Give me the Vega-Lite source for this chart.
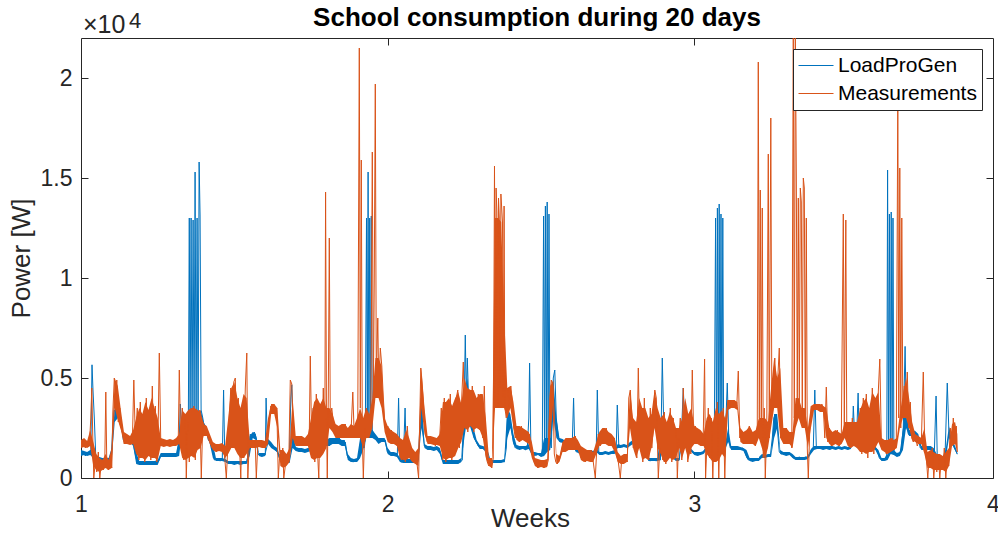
{
  "$schema": "https://vega.github.io/schema/vega-lite/v6.json",
  "width": 912,
  "height": 440,
  "autosize": {"type": "none"},
  "padding": {"left": 81, "top": 38, "right": 5, "bottom": 56},
  "background": "white",
  "title": {"text": "School consumption during 20 days", "fontSize": 26, "fontWeight": "bold", "color": "#000000", "offset": -21, "anchor": "middle", "font": "Liberation Sans"},
  "config": {
    "font": "Liberation Sans",
    "view": {"stroke": "#262626", "strokeWidth": 1},
    "axis": {"grid": false, "domain": false, "tickColor": "#262626", "tickSize": -7, "labelColor": "#262626", "labelFontSize": 23, "titleColor": "#262626", "titleFontSize": 26, "titleFontWeight": "normal", "labelFlush": false},
    "legend": {"orient": "top-right", "offset": 11, "strokeColor": "#262626", "fillColor": "#ffffff", "padding": 5, "symbolType": "stroke", "symbolSize": 1225, "symbolStrokeWidth": 1, "labelFontSize": 21, "labelColor": "#000000", "labelOffset": 4, "rowPadding": 5, "clipHeight": 23, "cornerRadius": 0}
  },
  "datasets": {
    "band": [
{"w":1.00,"llo":1100,"lhi":1400,"mlo":1500,"mhi":1900},{"w":1.01,"llo":1150,"lhi":1350,"mlo":1550,"mhi":2000},{"w":1.02,"llo":1100,"lhi":1300,"mlo":1500,"mhi":1850},{"w":1.03,"llo":1150,"lhi":1400,"mlo":1600,"mhi":2400},{"w":1.04,"llo":1000,"lhi":1400,"mlo":600,"mhi":1800},{"w":1.05,"llo":800,"lhi":1050,"mlo":400,"mhi":1200},{"w":1.06,"llo":850,"lhi":1050,"mlo":300,"mhi":1000},{"w":1.07,"llo":800,"lhi":1000,"mlo":400,"mhi":900},{"w":1.08,"llo":800,"lhi":1000,"mlo":500,"mhi":1200},{"w":1.09,"llo":800,"lhi":1000,"mlo":400,"mhi":900},
{"w":1.10,"llo":900,"lhi":1500,"mlo":500,"mhi":1500},{"w":1.11,"llo":2800,"lhi":3500,"mlo":3500,"mhi":5000},{"w":1.12,"llo":3000,"lhi":3500,"mlo":2900,"mhi":4600},{"w":1.13,"llo":2500,"lhi":3100,"mlo":2400,"mhi":3400},{"w":1.14,"llo":1800,"lhi":2100,"mlo":1700,"mhi":2300},{"w":1.15,"llo":1750,"lhi":2050,"mlo":1700,"mhi":2200},{"w":1.16,"llo":1800,"lhi":2000,"mlo":1650,"mhi":2100},{"w":1.17,"llo":1600,"lhi":1900,"mlo":1700,"mhi":2400},{"w":1.18,"llo":700,"lhi":1300,"mlo":1200,"mhi":3000},{"w":1.19,"llo":650,"lhi":850,"mlo":1000,"mhi":3500},
{"w":1.20,"llo":650,"lhi":850,"mlo":1000,"mhi":3200},{"w":1.21,"llo":650,"lhi":850,"mlo":900,"mhi":3800},{"w":1.22,"llo":650,"lhi":850,"mlo":1100,"mhi":3400},{"w":1.23,"llo":650,"lhi":850,"mlo":1000,"mhi":4000},{"w":1.24,"llo":650,"lhi":850,"mlo":1000,"mhi":3500},{"w":1.25,"llo":650,"lhi":900,"mlo":900,"mhi":3000},{"w":1.26,"llo":1050,"lhi":1250,"mlo":1600,"mhi":2000},{"w":1.27,"llo":1050,"lhi":1250,"mlo":1550,"mhi":1950},{"w":1.28,"llo":1050,"lhi":1250,"mlo":1600,"mhi":1900},{"w":1.29,"llo":1050,"lhi":1250,"mlo":1550,"mhi":1950},
{"w":1.30,"llo":1050,"lhi":1250,"mlo":1600,"mhi":1900},{"w":1.31,"llo":1050,"lhi":1250,"mlo":1600,"mhi":2000},{"w":1.32,"llo":1100,"lhi":2000,"mlo":1700,"mhi":2200},{"w":1.33,"llo":2400,"lhi":3200,"mlo":1000,"mhi":3400},{"w":1.34,"llo":2400,"lhi":3000,"mlo":900,"mhi":3200},{"w":1.35,"llo":2400,"lhi":2900,"mlo":1000,"mhi":3400},{"w":1.36,"llo":2400,"lhi":2900,"mlo":1100,"mhi":3500},{"w":1.37,"llo":2400,"lhi":2900,"mlo":1000,"mhi":3500},{"w":1.38,"llo":2400,"lhi":2900,"mlo":1400,"mhi":3400},{"w":1.39,"llo":2600,"lhi":3400,"mlo":1500,"mhi":3300},
{"w":1.40,"llo":2300,"lhi":2800,"mlo":2100,"mhi":2700},{"w":1.41,"llo":2200,"lhi":2500,"mlo":2100,"mhi":2600},{"w":1.42,"llo":1700,"lhi":1950,"mlo":1700,"mhi":2200},{"w":1.43,"llo":1000,"lhi":1700,"mlo":1400,"mhi":1800},{"w":1.44,"llo":850,"lhi":1000,"mlo":1300,"mhi":1700},{"w":1.45,"llo":850,"lhi":1000,"mlo":1350,"mhi":1700},{"w":1.46,"llo":850,"lhi":1000,"mlo":1300,"mhi":1750},{"w":1.47,"llo":800,"lhi":950,"mlo":1000,"mhi":1600},{"w":1.48,"llo":700,"lhi":850,"mlo":1200,"mhi":3000},{"w":1.49,"llo":700,"lhi":850,"mlo":1500,"mhi":4500},
{"w":1.50,"llo":650,"lhi":850,"mlo":1500,"mhi":4800},{"w":1.51,"llo":700,"lhi":850,"mlo":1200,"mhi":4000},{"w":1.52,"llo":650,"lhi":850,"mlo":1000,"mhi":3500},{"w":1.53,"llo":700,"lhi":850,"mlo":1000,"mhi":4200},{"w":1.54,"llo":700,"lhi":850,"mlo":1200,"mhi":4000},{"w":1.55,"llo":1100,"lhi":2100,"mlo":1500,"mhi":1900},{"w":1.56,"llo":2000,"lhi":2300,"mlo":1500,"mhi":1900},{"w":1.57,"llo":1900,"lhi":2200,"mlo":1500,"mhi":1900},{"w":1.58,"llo":1100,"lhi":1250,"mlo":1550,"mhi":1900},{"w":1.59,"llo":1050,"lhi":1250,"mlo":1500,"mhi":1900},
{"w":1.60,"llo":1100,"lhi":1250,"mlo":1500,"mhi":1850},{"w":1.61,"llo":1700,"lhi":1950,"mlo":1700,"mhi":3000},{"w":1.62,"llo":1500,"lhi":1800,"mlo":3200,"mhi":3700},{"w":1.63,"llo":1400,"lhi":1600,"mlo":3200,"mhi":3700},{"w":1.64,"llo":1300,"lhi":1500,"mlo":2500,"mhi":3500},{"w":1.65,"llo":800,"lhi":1000,"mlo":600,"mhi":1400},{"w":1.66,"llo":750,"lhi":900,"mlo":500,"mhi":1400},{"w":1.67,"llo":750,"lhi":900,"mlo":600,"mhi":1200},{"w":1.68,"llo":750,"lhi":900,"mlo":800,"mhi":1500},{"w":1.69,"llo":1500,"lhi":2200,"mlo":2000,"mhi":4000},
{"w":1.70,"llo":1350,"lhi":1550,"mlo":1600,"mhi":2100},{"w":1.71,"llo":1300,"lhi":1500,"mlo":1600,"mhi":2100},{"w":1.72,"llo":1300,"lhi":1500,"mlo":1600,"mhi":2100},{"w":1.73,"llo":1250,"lhi":1450,"mlo":1600,"mhi":2000},{"w":1.74,"llo":1300,"lhi":1500,"mlo":1600,"mhi":2200},{"w":1.75,"llo":1350,"lhi":1550,"mlo":1000,"mhi":3000},{"w":1.76,"llo":3200,"lhi":3600,"mlo":900,"mhi":3800},{"w":1.77,"llo":3200,"lhi":3600,"mlo":1000,"mhi":4000},{"w":1.78,"llo":2000,"lhi":3300,"mlo":1000,"mhi":3700},{"w":1.79,"llo":1700,"lhi":1900,"mlo":1200,"mhi":4000},
{"w":1.80,"llo":1600,"lhi":1900,"mlo":1500,"mhi":3500},{"w":1.81,"llo":1600,"lhi":2000,"mlo":2500,"mhi":3500},{"w":1.82,"llo":1700,"lhi":2000,"mlo":2300,"mhi":3200},{"w":1.83,"llo":1700,"lhi":2000,"mlo":2000,"mhi":2700},{"w":1.84,"llo":1700,"lhi":2000,"mlo":2000,"mhi":2600},{"w":1.85,"llo":1600,"lhi":1900,"mlo":2000,"mhi":2700},{"w":1.86,"llo":1600,"lhi":1900,"mlo":2000,"mhi":2700},{"w":1.87,"llo":900,"lhi":1200,"mlo":2000,"mhi":2500},{"w":1.88,"llo":800,"lhi":1000,"mlo":2000,"mhi":2700},{"w":1.89,"llo":800,"lhi":950,"mlo":2000,"mhi":2600},
{"w":1.90,"llo":800,"lhi":1000,"mlo":2000,"mhi":3000},{"w":1.91,"llo":1000,"lhi":2000,"mlo":2000,"mhi":3500},{"w":1.92,"llo":1400,"lhi":2000,"mlo":1500,"mhi":3000},{"w":1.93,"llo":2000,"lhi":2500,"mlo":2000,"mhi":3500},{"w":1.94,"llo":2000,"lhi":2500,"mlo":2000,"mhi":3200},{"w":1.95,"llo":2000,"lhi":2400,"mlo":2500,"mhi":4000},{"w":1.96,"llo":1900,"lhi":2200,"mlo":4000,"mhi":6000},{"w":1.97,"llo":1700,"lhi":2000,"mlo":4000,"mhi":6000},{"w":1.98,"llo":1800,"lhi":2000,"mlo":3500,"mhi":5600},{"w":1.99,"llo":1800,"lhi":2000,"mlo":2300,"mhi":3000},
{"w":2.00,"llo":1200,"lhi":1500,"mlo":1800,"mhi":2600},{"w":2.01,"llo":1100,"lhi":1300,"mlo":1700,"mhi":2400},{"w":2.02,"llo":1100,"lhi":1300,"mlo":1700,"mhi":2300},{"w":2.03,"llo":1050,"lhi":1250,"mlo":1600,"mhi":2200},{"w":2.04,"llo":800,"lhi":1000,"mlo":1000,"mhi":2000},{"w":2.05,"llo":750,"lhi":950,"mlo":900,"mhi":1900},{"w":2.06,"llo":750,"lhi":950,"mlo":900,"mhi":2400},{"w":2.07,"llo":750,"lhi":950,"mlo":1000,"mhi":2000},{"w":2.08,"llo":750,"lhi":950,"mlo":800,"mhi":1500},{"w":2.09,"llo":750,"lhi":950,"mlo":700,"mhi":1300},
{"w":2.10,"llo":800,"lhi":1000,"mlo":600,"mhi":1500},{"w":2.11,"llo":2500,"lhi":4000,"mlo":3500,"mhi":5500},{"w":2.12,"llo":1500,"lhi":1700,"mlo":2200,"mhi":3500},{"w":2.13,"llo":1400,"lhi":1600,"mlo":1700,"mhi":2100},{"w":2.14,"llo":1400,"lhi":1600,"mlo":1700,"mhi":2100},{"w":2.15,"llo":1350,"lhi":1550,"mlo":1650,"mhi":2050},{"w":2.16,"llo":1400,"lhi":1600,"mlo":1650,"mhi":2000},{"w":2.17,"llo":1200,"lhi":1500,"mlo":1600,"mhi":2200},{"w":2.18,"llo":700,"lhi":900,"mlo":1000,"mhi":3800},{"w":2.19,"llo":700,"lhi":900,"mlo":900,"mhi":3800},
{"w":2.20,"llo":700,"lhi":900,"mlo":1000,"mhi":4000},{"w":2.21,"llo":700,"lhi":900,"mlo":1000,"mhi":3600},{"w":2.22,"llo":700,"lhi":900,"mlo":1100,"mhi":4000},{"w":2.23,"llo":700,"lhi":900,"mlo":1500,"mhi":4300},{"w":2.24,"llo":800,"lhi":1000,"mlo":1800,"mhi":3700},{"w":2.25,"llo":2000,"lhi":4000,"mlo":2500,"mhi":5000},{"w":2.26,"llo":3000,"lhi":5000,"mlo":2400,"mhi":4500},{"w":2.27,"llo":2500,"lhi":3000,"mlo":2600,"mhi":4400},{"w":2.28,"llo":2000,"lhi":2500,"mlo":2400,"mhi":4400},{"w":2.29,"llo":1700,"lhi":1900,"mlo":2500,"mhi":4000},
{"w":2.30,"llo":1450,"lhi":1650,"mlo":2400,"mhi":4200},{"w":2.31,"llo":1450,"lhi":1600,"mlo":2000,"mhi":4200},{"w":2.32,"llo":1300,"lhi":1550,"mlo":1000,"mhi":3000},{"w":2.33,"llo":800,"lhi":1000,"mlo":600,"mhi":1000},{"w":2.34,"llo":750,"lhi":900,"mlo":500,"mhi":1000},{"w":2.35,"llo":750,"lhi":900,"mlo":3500,"mhi":13000},{"w":2.36,"llo":750,"lhi":900,"mlo":3500,"mhi":13000},{"w":2.37,"llo":750,"lhi":900,"mlo":3500,"mhi":12800},{"w":2.38,"llo":800,"lhi":950,"mlo":3500,"mhi":8000},{"w":2.39,"llo":2000,"lhi":3500,"mlo":3000,"mhi":4500},
{"w":2.40,"llo":2500,"lhi":3200,"mlo":3500,"mhi":4600},{"w":2.41,"llo":1700,"lhi":2200,"mlo":2500,"mhi":3800},{"w":2.42,"llo":1450,"lhi":1650,"mlo":1900,"mhi":2600},{"w":2.43,"llo":1400,"lhi":1600,"mlo":1800,"mhi":2600},{"w":2.44,"llo":1450,"lhi":1600,"mlo":1900,"mhi":2500},{"w":2.45,"llo":1400,"lhi":1600,"mlo":1800,"mhi":2400},{"w":2.46,"llo":1450,"lhi":1700,"mlo":1700,"mhi":2300},{"w":2.47,"llo":1150,"lhi":1300,"mlo":1000,"mhi":1800},{"w":2.48,"llo":1100,"lhi":1300,"mlo":600,"mhi":1000},{"w":2.49,"llo":1150,"lhi":1250,"mlo":500,"mhi":950},
{"w":2.50,"llo":1050,"lhi":1250,"mlo":550,"mhi":900},{"w":2.51,"llo":1100,"lhi":2000,"mlo":500,"mhi":900},{"w":2.52,"llo":1300,"lhi":2000,"mlo":550,"mhi":950},{"w":2.53,"llo":1400,"lhi":2000,"mlo":2000,"mhi":4600},{"w":2.54,"llo":3000,"lhi":5000,"mlo":3800,"mhi":4900},{"w":2.55,"llo":2000,"lhi":3000,"mlo":700,"mhi":1200},{"w":2.56,"llo":1800,"lhi":2000,"mlo":800,"mhi":1100},{"w":2.57,"llo":1750,"lhi":1950,"mlo":1300,"mhi":1800},{"w":2.58,"llo":1650,"lhi":1850,"mlo":1300,"mhi":2000},{"w":2.59,"llo":1700,"lhi":1900,"mlo":1400,"mhi":2000},
{"w":2.60,"llo":1650,"lhi":1850,"mlo":1400,"mhi":2000},{"w":2.61,"llo":1400,"lhi":1600,"mlo":1400,"mhi":2100},{"w":2.62,"llo":1250,"lhi":1400,"mlo":1400,"mhi":1900},{"w":2.63,"llo":1200,"lhi":1350,"mlo":900,"mhi":1600},{"w":2.64,"llo":1250,"lhi":1400,"mlo":800,"mhi":1500},{"w":2.65,"llo":1200,"lhi":1350,"mlo":850,"mhi":1400},{"w":2.66,"llo":1250,"lhi":1400,"mlo":800,"mhi":1400},{"w":2.67,"llo":1200,"lhi":1350,"mlo":800,"mhi":1300},{"w":2.68,"llo":1300,"lhi":1500,"mlo":1200,"mhi":1800},{"w":2.69,"llo":1150,"lhi":1300,"mlo":1600,"mhi":2300},
{"w":2.70,"llo":1150,"lhi":1300,"mlo":1700,"mhi":2500},{"w":2.71,"llo":1200,"lhi":1350,"mlo":1700,"mhi":2500},{"w":2.72,"llo":1150,"lhi":1300,"mlo":1600,"mhi":2300},{"w":2.73,"llo":1200,"lhi":1350,"mlo":1600,"mhi":2200},{"w":2.74,"llo":1200,"lhi":1400,"mlo":1300,"mhi":2000},{"w":2.75,"llo":1500,"lhi":1700,"mlo":800,"mhi":1300},{"w":2.76,"llo":1500,"lhi":1650,"mlo":700,"mhi":1100},{"w":2.77,"llo":1550,"lhi":1700,"mlo":700,"mhi":1200},{"w":2.78,"llo":1500,"lhi":1650,"mlo":800,"mhi":1200},{"w":2.79,"llo":1600,"lhi":1800,"mlo":2500,"mhi":4400},
{"w":2.80,"llo":1700,"lhi":1900,"mlo":1500,"mhi":3000},{"w":2.81,"llo":1800,"lhi":1950,"mlo":1000,"mhi":2800},{"w":2.82,"llo":1800,"lhi":2000,"mlo":1500,"mhi":4000},{"w":2.83,"llo":1750,"lhi":1950,"mlo":900,"mhi":3500},{"w":2.84,"llo":1400,"lhi":1900,"mlo":1000,"mhi":3500},{"w":2.85,"llo":850,"lhi":1000,"mlo":900,"mhi":3000},{"w":2.86,"llo":850,"lhi":1000,"mlo":1500,"mhi":3200},{"w":2.87,"llo":850,"lhi":1000,"mlo":2500,"mhi":4400},{"w":2.88,"llo":850,"lhi":1000,"mlo":1500,"mhi":3500},{"w":2.89,"llo":900,"lhi":2500,"mlo":1200,"mhi":3000},
{"w":2.90,"llo":2000,"lhi":3000,"mlo":800,"mhi":3200},{"w":2.91,"llo":1700,"lhi":2000,"mlo":800,"mhi":2800},{"w":2.92,"llo":1400,"lhi":1600,"mlo":1000,"mhi":3300},{"w":2.93,"llo":1000,"lhi":1200,"mlo":900,"mhi":3000},{"w":2.94,"llo":850,"lhi":1000,"mlo":1000,"mhi":2500},{"w":2.95,"llo":850,"lhi":1000,"mlo":1500,"mhi":2500},{"w":2.96,"llo":1800,"lhi":2500,"mlo":1000,"mhi":3000},{"w":2.97,"llo":2000,"lhi":3500,"mlo":1500,"mhi":4000},{"w":2.98,"llo":1400,"lhi":1600,"mlo":900,"mhi":3200},{"w":2.99,"llo":1300,"lhi":1450,"mlo":1500,"mhi":3500},
{"w":3.00,"llo":1150,"lhi":1300,"mlo":1700,"mhi":2600},{"w":3.01,"llo":1100,"lhi":1300,"mlo":1700,"mhi":2500},{"w":3.02,"llo":1150,"lhi":1300,"mlo":1600,"mhi":2400},{"w":3.03,"llo":1200,"lhi":1350,"mlo":1600,"mhi":2200},{"w":3.04,"llo":1400,"lhi":1600,"mlo":1200,"mhi":3000},{"w":3.05,"llo":1400,"lhi":1600,"mlo":1000,"mhi":3200},{"w":3.06,"llo":1400,"lhi":1600,"mlo":800,"mhi":2800},{"w":3.07,"llo":1400,"lhi":1700,"mlo":800,"mhi":3500},{"w":3.08,"llo":1400,"lhi":1700,"mlo":900,"mhi":3200},{"w":3.09,"llo":1400,"lhi":1700,"mlo":1200,"mhi":3400},
{"w":3.10,"llo":1400,"lhi":1700,"mlo":1000,"mhi":3000},{"w":3.11,"llo":1800,"lhi":2500,"mlo":3400,"mhi":3900},{"w":3.12,"llo":1400,"lhi":1600,"mlo":3500,"mhi":3900},{"w":3.13,"llo":1400,"lhi":1600,"mlo":3500,"mhi":3900},{"w":3.14,"llo":1400,"lhi":1600,"mlo":3400,"mhi":3800},{"w":3.15,"llo":1400,"lhi":1550,"mlo":1800,"mhi":2500},{"w":3.16,"llo":1350,"lhi":1500,"mlo":1700,"mhi":2300},{"w":3.17,"llo":1000,"lhi":1400,"mlo":1700,"mhi":2400},{"w":3.18,"llo":850,"lhi":1000,"mlo":1700,"mhi":2600},{"w":3.19,"llo":800,"lhi":1000,"mlo":1700,"mhi":2300},
{"w":3.20,"llo":850,"lhi":1000,"mlo":1600,"mhi":2400},{"w":3.21,"llo":850,"lhi":1000,"mlo":2000,"mhi":3000},{"w":3.22,"llo":1000,"lhi":1200,"mlo":1500,"mhi":3000},{"w":3.23,"llo":1000,"lhi":1150,"mlo":1000,"mhi":3000},{"w":3.24,"llo":1050,"lhi":1200,"mlo":1500,"mhi":2800},{"w":3.25,"llo":1050,"lhi":1200,"mlo":2500,"mhi":4500},{"w":3.26,"llo":2000,"lhi":3200,"mlo":3500,"mhi":6000},{"w":3.27,"llo":2500,"lhi":3200,"mlo":3500,"mhi":5000},{"w":3.28,"llo":1200,"lhi":1400,"mlo":2000,"mhi":5500},{"w":3.29,"llo":1150,"lhi":1300,"mlo":1700,"mhi":2500},
{"w":3.30,"llo":1100,"lhi":1300,"mlo":1700,"mhi":2500},{"w":3.31,"llo":1150,"lhi":1300,"mlo":1700,"mhi":2300},{"w":3.32,"llo":1000,"lhi":1200,"mlo":1500,"mhi":2300},{"w":3.33,"llo":900,"lhi":1050,"mlo":2500,"mhi":4000},{"w":3.34,"llo":900,"lhi":1050,"mlo":3000,"mhi":4000},{"w":3.35,"llo":900,"lhi":1050,"mlo":2500,"mhi":3500},{"w":3.36,"llo":900,"lhi":1050,"mlo":2500,"mhi":3500},{"w":3.37,"llo":950,"lhi":1100,"mlo":1500,"mhi":2500},{"w":3.38,"llo":1200,"lhi":1450,"mlo":2500,"mhi":3600},{"w":3.39,"llo":1400,"lhi":1600,"mlo":3400,"mhi":3700},
{"w":3.40,"llo":1450,"lhi":1600,"mlo":3400,"mhi":3700},{"w":3.41,"llo":1450,"lhi":1600,"mlo":3300,"mhi":3700},{"w":3.42,"llo":1400,"lhi":1600,"mlo":3300,"mhi":3600},{"w":3.43,"llo":1450,"lhi":1600,"mlo":2000,"mhi":3500},{"w":3.44,"llo":1400,"lhi":1600,"mlo":1700,"mhi":2500},{"w":3.45,"llo":1450,"lhi":1600,"mlo":1600,"mhi":2300},{"w":3.46,"llo":1400,"lhi":1550,"mlo":1700,"mhi":2400},{"w":3.47,"llo":1450,"lhi":1600,"mlo":1600,"mhi":2300},{"w":3.48,"llo":1400,"lhi":1550,"mlo":1700,"mhi":2200},{"w":3.49,"llo":1450,"lhi":1600,"mlo":2000,"mhi":2800},
{"w":3.50,"llo":1400,"lhi":1550,"mlo":1600,"mhi":2800},{"w":3.51,"llo":1450,"lhi":1600,"mlo":1500,"mhi":2800},{"w":3.52,"llo":1800,"lhi":2500,"mlo":1600,"mhi":2800},{"w":3.53,"llo":1500,"lhi":1800,"mlo":1500,"mhi":2800},{"w":3.54,"llo":1450,"lhi":1600,"mlo":1300,"mhi":3400},{"w":3.55,"llo":1400,"lhi":1600,"mlo":1300,"mhi":3800},{"w":3.56,"llo":1450,"lhi":1600,"mlo":1200,"mhi":4000},{"w":3.57,"llo":1400,"lhi":1550,"mlo":1300,"mhi":3500},{"w":3.58,"llo":1450,"lhi":1600,"mlo":1300,"mhi":4300},{"w":3.59,"llo":1400,"lhi":1550,"mlo":1500,"mhi":4000},
{"w":3.60,"llo":1100,"lhi":1400,"mlo":1800,"mhi":4300},{"w":3.61,"llo":850,"lhi":1000,"mlo":1400,"mhi":2000},{"w":3.62,"llo":850,"lhi":1000,"mlo":1300,"mhi":1900},{"w":3.63,"llo":900,"lhi":1200,"mlo":1200,"mhi":1900},{"w":3.64,"llo":1200,"lhi":1500,"mlo":1300,"mhi":2000},{"w":3.65,"llo":1150,"lhi":1400,"mlo":1400,"mhi":1900},{"w":3.66,"llo":1050,"lhi":1250,"mlo":1500,"mhi":2000},{"w":3.67,"llo":1100,"lhi":1300,"mlo":2500,"mhi":3200},{"w":3.68,"llo":1400,"lhi":2500,"mlo":3000,"mhi":4200},{"w":3.69,"llo":2500,"lhi":4000,"mlo":3000,"mhi":5000},
{"w":3.70,"llo":2100,"lhi":2400,"mlo":2500,"mhi":4000},{"w":3.71,"llo":2100,"lhi":2400,"mlo":1900,"mhi":2800},{"w":3.72,"llo":2100,"lhi":2350,"mlo":1800,"mhi":2200},{"w":3.73,"llo":1900,"lhi":2200,"mlo":1700,"mhi":2100},{"w":3.74,"llo":1400,"lhi":1600,"mlo":1700,"mhi":2000},{"w":3.75,"llo":1400,"lhi":1600,"mlo":1200,"mhi":2500},{"w":3.76,"llo":1400,"lhi":1600,"mlo":500,"mhi":1300},{"w":3.77,"llo":1400,"lhi":1600,"mlo":500,"mhi":1400},{"w":3.78,"llo":1200,"lhi":1500,"mlo":400,"mhi":1300},{"w":3.79,"llo":950,"lhi":1200,"mlo":400,"mhi":1200},
{"w":3.80,"llo":850,"lhi":1000,"mlo":400,"mhi":1200},{"w":3.81,"llo":850,"lhi":1000,"mlo":400,"mhi":1100},{"w":3.82,"llo":1000,"lhi":1500,"mlo":300,"mhi":1300},{"w":3.83,"llo":2000,"lhi":2600,"mlo":600,"mhi":1500},{"w":3.84,"llo":1700,"lhi":1900,"mlo":1600,"mhi":2700},{"w":3.85,"llo":1400,"lhi":1600,"mlo":1700,"mhi":2800},{"w":3.857,"llo":1150,"lhi":1300,"mlo":1300,"mhi":2200}
    ],
    "lpg": [
{"w":1.0010,"p":1200},{"w":1.0075,"p":1350},{"w":1.0140,"p":1100},{"w":1.0205,"p":1300},{"w":1.0271,"p":1150},{"w":1.0320,"p":1400},{"w":1.0359,"p":5660},{"w":1.0391,"p":4400},{"w":1.0434,"p":3000},{"w":1.0483,"p":1000},{"w":1.0531,"p":850},{"w":1.0597,"p":950},{"w":1.0662,"p":800},{"w":1.0727,"p":900},{"w":1.0792,"p":800},{"w":1.0858,"p":950},{"w":1.0923,"p":850},{"w":1.0988,"p":1000},{"w":1.1037,"p":2600},{"w":1.1086,"p":3400},{"w":1.1151,"p":3200},{"w":1.1216,"p":3400},{"w":1.1281,"p":3000},{"w":1.1330,"p":2600},{"w":1.1379,"p":1900},{"w":1.1444,"p":2000},{"w":1.1510,"p":1800},{"w":1.1575,"p":1900},{"w":1.1640,"p":1850},{"w":1.1705,"p":1700},{"w":1.1770,"p":1200},{"w":1.1836,"p":750},{"w":1.1901,"p":800},{"w":1.1966,"p":700},{"w":1.2031,"p":800},{"w":1.2096,"p":750},{"w":1.2162,"p":700},{"w":1.2227,"p":800},{"w":1.2292,"p":750},{"w":1.2357,"p":700},{"w":1.2423,"p":800},{"w":1.2488,"p":750},{"w":1.2553,"p":900},{"w":1.2602,"p":1150},{"w":1.2683,"p":1200},{"w":1.2749,"p":1100},{"w":1.2814,"p":1200},{"w":1.2879,"p":1100},{"w":1.2944,"p":1150},{"w":1.3009,"p":1200},{"w":1.3075,"p":1100},{"w":1.3140,"p":1200},{"w":1.3205,"p":2000},{"w":1.3238,"p":3700},{"w":1.3287,"p":2500},{"w":1.3336,"p":3000},{"w":1.3385,"p":2500},{"w":1.3433,"p":2800},{"w":1.3499,"p":2600},{"w":1.3531,"p":13000},{"w":1.3557,"p":2500},{"w":1.3590,"p":13000},{"w":1.3622,"p":2600},{"w":1.3655,"p":12900},{"w":1.3688,"p":2700},{"w":1.3720,"p":15300},{"w":1.3753,"p":2500},{"w":1.3785,"p":13000},{"w":1.3818,"p":2600},{"w":1.3851,"p":15800},{"w":1.3883,"p":13100},{"w":1.3916,"p":3400},{"w":1.3971,"p":3000},{"w":1.4020,"p":2500},{"w":1.4086,"p":2400},{"w":1.4151,"p":1900},{"w":1.4216,"p":1800},{"w":1.4281,"p":1700},{"w":1.4346,"p":900},{"w":1.4412,"p":950},{"w":1.4477,"p":900},{"w":1.4542,"p":850},{"w":1.4607,"p":950},{"w":1.4649,"p":4400},{"w":1.4689,"p":900},{"w":1.4738,"p":800},{"w":1.4803,"p":750},{"w":1.4868,"p":800},{"w":1.4933,"p":750},{"w":1.4998,"p":700},{"w":1.5064,"p":800},{"w":1.5129,"p":750},{"w":1.5194,"p":700},{"w":1.5259,"p":750},{"w":1.5324,"p":800},{"w":1.5390,"p":750},{"w":1.5455,"p":1200},{"w":1.5520,"p":2200},{"w":1.5585,"p":2100},{"w":1.5650,"p":2300},{"w":1.5716,"p":2000},{"w":1.5765,"p":1200},{"w":1.5814,"p":1150},{"w":1.5879,"p":1100},{"w":1.5944,"p":1200},{"w":1.6009,"p":1150},{"w":1.6035,"p":4000},{"w":1.6074,"p":1900},{"w":1.6140,"p":1800},{"w":1.6205,"p":1600},{"w":1.6270,"p":1500},{"w":1.6335,"p":1400},{"w":1.6400,"p":1300},{"w":1.6466,"p":1000},{"w":1.6531,"p":800},{"w":1.6596,"p":850},{"w":1.6661,"p":800},{"w":1.6726,"p":850},{"w":1.6792,"p":800},{"w":1.6840,"p":4000},{"w":1.6873,"p":4660},{"w":1.6922,"p":2000},{"w":1.6987,"p":1500},{"w":1.7052,"p":1400},{"w":1.7118,"p":1350},{"w":1.7183,"p":1450},{"w":1.7248,"p":1400},{"w":1.7313,"p":1300},{"w":1.7378,"p":1450},{"w":1.7444,"p":1400},{"w":1.7509,"p":1500},{"w":1.7574,"p":3500},{"w":1.7639,"p":3600},{"w":1.7704,"p":3500},{"w":1.7770,"p":3300},{"w":1.7835,"p":2000},{"w":1.7900,"p":1800},{"w":1.7965,"p":1700},{"w":1.8030,"p":1900},{"w":1.8096,"p":1600},{"w":1.8161,"p":2000},{"w":1.8226,"p":1800},{"w":1.8291,"p":1900},{"w":1.8356,"p":1700},{"w":1.8422,"p":2000},{"w":1.8487,"p":1700},{"w":1.8552,"p":1600},{"w":1.8617,"p":1800},{"w":1.8682,"p":1100},{"w":1.8748,"p":900},{"w":1.8813,"p":850},{"w":1.8878,"p":800},{"w":1.8943,"p":900},{"w":1.9009,"p":850},{"w":1.9074,"p":1000},{"w":1.9123,"p":2000},{"w":1.9172,"p":1600},{"w":1.9237,"p":1500},{"w":1.9270,"p":2000},{"w":1.9309,"p":13000},{"w":1.9335,"p":2500},{"w":1.9361,"p":15300},{"w":1.9387,"p":2400},{"w":1.9413,"p":13000},{"w":1.9439,"p":2200},{"w":1.9465,"p":13100},{"w":1.9498,"p":2400},{"w":1.9531,"p":2200},{"w":1.9596,"p":2100},{"w":1.9661,"p":2000},{"w":1.9726,"p":1800},{"w":1.9791,"p":1900},{"w":1.9857,"p":1850},{"w":1.9922,"p":1900},{"w":1.9987,"p":1300},{"w":2.0052,"p":1200},{"w":2.0117,"p":1250},{"w":2.0183,"p":1150},{"w":2.0248,"p":1200},{"w":2.0313,"p":1100},{"w":2.0355,"p":4000},{"w":2.0394,"p":1000},{"w":2.0444,"p":800},{"w":2.0509,"p":850},{"w":2.0567,"p":3500},{"w":2.0606,"p":900},{"w":2.0672,"p":850},{"w":2.0737,"p":800},{"w":2.0802,"p":900},{"w":2.0867,"p":850},{"w":2.0932,"p":800},{"w":2.0998,"p":900},{"w":2.1063,"p":3000},{"w":2.1096,"p":4000},{"w":2.1144,"p":2500},{"w":2.1193,"p":1600},{"w":2.1259,"p":1500},{"w":2.1324,"p":1550},{"w":2.1389,"p":1450},{"w":2.1454,"p":1500},{"w":2.1520,"p":1400},{"w":2.1585,"p":1550},{"w":2.1650,"p":1500},{"w":2.1715,"p":1300},{"w":2.1780,"p":900},{"w":2.1845,"p":800},{"w":2.1911,"p":750},{"w":2.1976,"p":800},{"w":2.2041,"p":850},{"w":2.2106,"p":750},{"w":2.2172,"p":800},{"w":2.2237,"p":800},{"w":2.2302,"p":850},{"w":2.2367,"p":800},{"w":2.2432,"p":900},{"w":2.2481,"p":2500},{"w":2.2530,"p":7150},{"w":2.2563,"p":4000},{"w":2.2596,"p":6000},{"w":2.2644,"p":3500},{"w":2.2693,"p":3000},{"w":2.2758,"p":2500},{"w":2.2824,"p":2000},{"w":2.2889,"p":1800},{"w":2.2954,"p":1600},{"w":2.3019,"p":1500},{"w":2.3084,"p":1550},{"w":2.3150,"p":1450},{"w":2.3215,"p":1500},{"w":2.3280,"p":1200},{"w":2.3345,"p":850},{"w":2.3410,"p":800},{"w":2.3476,"p":850},{"w":2.3541,"p":800},{"w":2.3606,"p":850},{"w":2.3671,"p":800},{"w":2.3737,"p":850},{"w":2.3802,"p":800},{"w":2.3867,"p":1500},{"w":2.3916,"p":3500},{"w":2.3965,"p":3000},{"w":2.4030,"p":2500},{"w":2.4095,"p":1800},{"w":2.4160,"p":1500},{"w":2.4226,"p":1600},{"w":2.4291,"p":1450},{"w":2.4356,"p":1500},{"w":2.4421,"p":1550},{"w":2.4486,"p":1400},{"w":2.4552,"p":1500},{"w":2.4601,"p":3000},{"w":2.4627,"p":5750},{"w":2.4666,"p":1800},{"w":2.4715,"p":1200},{"w":2.4780,"p":1250},{"w":2.4845,"p":1150},{"w":2.4910,"p":1200},{"w":2.4975,"p":1100},{"w":2.5041,"p":1200},{"w":2.5083,"p":13100},{"w":2.5112,"p":2000},{"w":2.5142,"p":13600},{"w":2.5171,"p":1500},{"w":2.5200,"p":13800},{"w":2.5230,"p":1500},{"w":2.5259,"p":13200},{"w":2.5288,"p":2000},{"w":2.5334,"p":1500},{"w":2.5399,"p":5000},{"w":2.5448,"p":5400},{"w":2.5497,"p":3000},{"w":2.5562,"p":2000},{"w":2.5627,"p":1800},{"w":2.5693,"p":1900},{"w":2.5758,"p":1700},{"w":2.5823,"p":1800},{"w":2.5888,"p":1900},{"w":2.5954,"p":1700},{"w":2.6019,"p":1800},{"w":2.6061,"p":4000},{"w":2.6100,"p":1500},{"w":2.6149,"p":1300},{"w":2.6214,"p":1350},{"w":2.6280,"p":1250},{"w":2.6345,"p":1300},{"w":2.6410,"p":1350},{"w":2.6475,"p":1250},{"w":2.6540,"p":1300},{"w":2.6606,"p":1350},{"w":2.6671,"p":1250},{"w":2.6736,"p":1300},{"w":2.6801,"p":1500},{"w":2.6834,"p":4400},{"w":2.6883,"p":1300},{"w":2.6932,"p":1250},{"w":2.6997,"p":1200},{"w":2.7062,"p":1300},{"w":2.7127,"p":1250},{"w":2.7193,"p":1200},{"w":2.7258,"p":1300},{"w":2.7323,"p":1250},{"w":2.7388,"p":1300},{"w":2.7453,"p":1600},{"w":2.7486,"p":3650},{"w":2.7535,"p":1600},{"w":2.7584,"p":1600},{"w":2.7649,"p":1550},{"w":2.7714,"p":1650},{"w":2.7780,"p":1600},{"w":2.7845,"p":1550},{"w":2.7910,"p":1700},{"w":2.7975,"p":1800},{"w":2.8041,"p":1900},{"w":2.8106,"p":1850},{"w":2.8171,"p":1950},{"w":2.8236,"p":1900},{"w":2.8301,"p":1800},{"w":2.8367,"p":1900},{"w":2.8432,"p":1500},{"w":2.8497,"p":900},{"w":2.8562,"p":850},{"w":2.8627,"p":950},{"w":2.8693,"p":900},{"w":2.8758,"p":850},{"w":2.8823,"p":950},{"w":2.8888,"p":900},{"w":2.8921,"p":3000},{"w":2.8953,"p":6000},{"w":2.9002,"p":2500},{"w":2.9051,"p":2000},{"w":2.9117,"p":1800},{"w":2.9182,"p":1500},{"w":2.9247,"p":1300},{"w":2.9312,"p":1100},{"w":2.9377,"p":900},{"w":2.9443,"p":950},{"w":2.9508,"p":900},{"w":2.9573,"p":2000},{"w":2.9638,"p":4500},{"w":2.9687,"p":2500},{"w":2.9736,"p":1600},{"w":2.9801,"p":1500},{"w":2.9866,"p":1400},{"w":2.9931,"p":1300},{"w":2.9997,"p":1200},{"w":3.0062,"p":1250},{"w":3.0127,"p":1150},{"w":3.0192,"p":1200},{"w":3.0257,"p":1250},{"w":3.0323,"p":1400},{"w":3.0388,"p":1500},{"w":3.0453,"p":1550},{"w":3.0518,"p":1450},{"w":3.0583,"p":1500},{"w":3.0648,"p":1600},{"w":3.0691,"p":13000},{"w":3.0720,"p":1500},{"w":3.0750,"p":13500},{"w":3.0779,"p":1500},{"w":3.0808,"p":13700},{"w":3.0838,"p":1500},{"w":3.0867,"p":13200},{"w":3.0896,"p":1600},{"w":3.0926,"p":13000},{"w":3.0955,"p":1500},{"w":3.1007,"p":2000},{"w":3.1072,"p":4750},{"w":3.1121,"p":2000},{"w":3.1170,"p":1500},{"w":3.1235,"p":1550},{"w":3.1301,"p":1450},{"w":3.1366,"p":1500},{"w":3.1431,"p":1550},{"w":3.1496,"p":1450},{"w":3.1561,"p":1500},{"w":3.1627,"p":1400},{"w":3.1692,"p":1100},{"w":3.1757,"p":900},{"w":3.1822,"p":950},{"w":3.1887,"p":850},{"w":3.1953,"p":900},{"w":3.2018,"p":950},{"w":3.2083,"p":900},{"w":3.2148,"p":1100},{"w":3.2213,"p":1150},{"w":3.2279,"p":1050},{"w":3.2344,"p":1100},{"w":3.2409,"p":1150},{"w":3.2475,"p":1100},{"w":3.2540,"p":2000},{"w":3.2589,"p":3000},{"w":3.2638,"p":3200},{"w":3.2703,"p":2500},{"w":3.2768,"p":1300},{"w":3.2833,"p":1200},{"w":3.2899,"p":1250},{"w":3.2964,"p":1150},{"w":3.3029,"p":1200},{"w":3.3094,"p":1250},{"w":3.3160,"p":1150},{"w":3.3225,"p":1000},{"w":3.3290,"p":950},{"w":3.3355,"p":1000},{"w":3.3420,"p":1050},{"w":3.3486,"p":950},{"w":3.3551,"p":1000},{"w":3.3616,"p":1050},{"w":3.3681,"p":1000},{"w":3.3747,"p":1200},{"w":3.3812,"p":1400},{"w":3.3877,"p":1500},{"w":3.3926,"p":4400},{"w":3.3975,"p":1600},{"w":3.4040,"p":1500},{"w":3.4105,"p":1550},{"w":3.4170,"p":1450},{"w":3.4236,"p":1500},{"w":3.4301,"p":1550},{"w":3.4366,"p":1500},{"w":3.4431,"p":1450},{"w":3.4496,"p":1500},{"w":3.4562,"p":1550},{"w":3.4627,"p":1450},{"w":3.4692,"p":1500},{"w":3.4757,"p":1550},{"w":3.4822,"p":1450},{"w":3.4888,"p":1500},{"w":3.4953,"p":1550},{"w":3.5018,"p":1450},{"w":3.5083,"p":1500},{"w":3.5149,"p":2000},{"w":3.5181,"p":3600},{"w":3.5230,"p":2000},{"w":3.5279,"p":1600},{"w":3.5338,"p":4250},{"w":3.5377,"p":1800},{"w":3.5442,"p":1500},{"w":3.5507,"p":1550},{"w":3.5572,"p":1450},{"w":3.5638,"p":1500},{"w":3.5703,"p":1550},{"w":3.5768,"p":1450},{"w":3.5833,"p":1500},{"w":3.5898,"p":1550},{"w":3.5964,"p":1400},{"w":3.6029,"p":1000},{"w":3.6094,"p":900},{"w":3.6159,"p":950},{"w":3.6225,"p":900},{"w":3.6273,"p":1200},{"w":3.6299,"p":15400},{"w":3.6329,"p":1500},{"w":3.6358,"p":13200},{"w":3.6387,"p":1400},{"w":3.6417,"p":13300},{"w":3.6446,"p":1500},{"w":3.6475,"p":13000},{"w":3.6505,"p":1400},{"w":3.6550,"p":1200},{"w":3.6616,"p":1100},{"w":3.6681,"p":1200},{"w":3.6746,"p":1500},{"w":3.6811,"p":2500},{"w":3.6870,"p":6580},{"w":3.6909,"p":3000},{"w":3.6974,"p":2200},{"w":3.7039,"p":2100},{"w":3.7104,"p":2300},{"w":3.7170,"p":2200},{"w":3.7235,"p":2100},{"w":3.7300,"p":2000},{"w":3.7365,"p":1500},{"w":3.7430,"p":1450},{"w":3.7496,"p":1550},{"w":3.7561,"p":1500},{"w":3.7626,"p":1450},{"w":3.7691,"p":1500},{"w":3.7756,"p":1400},{"w":3.7822,"p":1200},{"w":3.7880,"p":4100},{"w":3.7919,"p":1000},{"w":3.7984,"p":900},{"w":3.8050,"p":950},{"w":3.8115,"p":900},{"w":3.8180,"p":1500},{"w":3.8245,"p":4750},{"w":3.8294,"p":2500},{"w":3.8343,"p":1900},{"w":3.8408,"p":1800},{"w":3.8474,"p":1500},{"w":3.8539,"p":1300},{"w":3.8571,"p":1200}
    ],
    "meas": [
{"w":1.0010,"p":1650},{"w":1.0075,"p":1900},{"w":1.0140,"p":1500},{"w":1.0205,"p":1800},{"w":1.0271,"p":1600},{"w":1.0320,"p":3000},{"w":1.0352,"p":4500},{"w":1.0385,"p":2000},{"w":1.0417,"p":0},{"w":1.0466,"p":800},{"w":1.0515,"p":300},{"w":1.0564,"p":1300},{"w":1.0613,"p":0},{"w":1.0662,"p":700},{"w":1.0727,"p":400},{"w":1.0776,"p":900},{"w":1.0809,"p":4300},{"w":1.0841,"p":700},{"w":1.0890,"p":400},{"w":1.0955,"p":900},{"w":1.1004,"p":500},{"w":1.1037,"p":3250},{"w":1.1086,"p":5000},{"w":1.1135,"p":4000},{"w":1.1167,"p":4900},{"w":1.1216,"p":2800},{"w":1.1265,"p":3500},{"w":1.1314,"p":2500},{"w":1.1363,"p":2200},{"w":1.1412,"p":1700},{"w":1.1477,"p":2100},{"w":1.1542,"p":1700},{"w":1.1607,"p":2000},{"w":1.1673,"p":1700},{"w":1.1722,"p":4900},{"w":1.1770,"p":2000},{"w":1.1836,"p":3500},{"w":1.1885,"p":900},{"w":1.1933,"p":3800},{"w":1.1982,"p":1000},{"w":1.2031,"p":3000},{"w":1.2080,"p":800},{"w":1.2129,"p":4000},{"w":1.2178,"p":1200},{"w":1.2227,"p":3200},{"w":1.2276,"p":900},{"w":1.2325,"p":4600},{"w":1.2374,"p":1100},{"w":1.2423,"p":3600},{"w":1.2472,"p":800},{"w":1.2520,"p":3000},{"w":1.2553,"p":6250},{"w":1.2602,"p":1700},{"w":1.2651,"p":1900},{"w":1.2716,"p":1600},{"w":1.2781,"p":1850},{"w":1.2846,"p":1650},{"w":1.2912,"p":1900},{"w":1.2977,"p":1600},{"w":1.3042,"p":1800},{"w":1.3107,"p":1700},{"w":1.3172,"p":2000},{"w":1.3205,"p":5400},{"w":1.3254,"p":1500},{"w":1.3303,"p":3500},{"w":1.3352,"p":900},{"w":1.3401,"p":3000},{"w":1.3433,"p":0},{"w":1.3482,"p":2800},{"w":1.3531,"p":800},{"w":1.3580,"p":3400},{"w":1.3629,"p":1200},{"w":1.3678,"p":3600},{"w":1.3727,"p":900},{"w":1.3776,"p":3200},{"w":1.3825,"p":1500},{"w":1.3874,"p":3400},{"w":1.3922,"p":0},{"w":1.3971,"p":2800},{"w":1.4020,"p":2200},{"w":1.4086,"p":2500},{"w":1.4151,"p":2100},{"w":1.4216,"p":1800},{"w":1.4281,"p":1500},{"w":1.4346,"p":1600},{"w":1.4412,"p":1300},{"w":1.4477,"p":1600},{"w":1.4542,"p":1400},{"w":1.4607,"p":1700},{"w":1.4672,"p":1300},{"w":1.4738,"p":0},{"w":1.4786,"p":1500},{"w":1.4835,"p":3000},{"w":1.4884,"p":4500},{"w":1.4933,"p":2500},{"w":1.4982,"p":4800},{"w":1.5031,"p":5000},{"w":1.5080,"p":1500},{"w":1.5129,"p":4000},{"w":1.5178,"p":1200},{"w":1.5210,"p":0},{"w":1.5259,"p":3500},{"w":1.5308,"p":1000},{"w":1.5357,"p":4500},{"w":1.5406,"p":6250},{"w":1.5439,"p":0},{"w":1.5488,"p":1800},{"w":1.5553,"p":1500},{"w":1.5618,"p":1900},{"w":1.5683,"p":1600},{"w":1.5716,"p":0},{"w":1.5765,"p":1700},{"w":1.5814,"p":1900},{"w":1.5879,"p":1600},{"w":1.5944,"p":1800},{"w":1.6009,"p":1500},{"w":1.6074,"p":1800},{"w":1.6140,"p":3000},{"w":1.6189,"p":3600},{"w":1.6237,"p":3400},{"w":1.6286,"p":3700},{"w":1.6335,"p":3300},{"w":1.6384,"p":3500},{"w":1.6433,"p":0},{"w":1.6482,"p":1200},{"w":1.6531,"p":800},{"w":1.6580,"p":1500},{"w":1.6612,"p":0},{"w":1.6661,"p":600},{"w":1.6726,"p":1200},{"w":1.6775,"p":800},{"w":1.6824,"p":4900},{"w":1.6873,"p":4700},{"w":1.6922,"p":2200},{"w":1.6987,"p":1700},{"w":1.7052,"p":2000},{"w":1.7118,"p":1600},{"w":1.7183,"p":2100},{"w":1.7248,"p":1700},{"w":1.7313,"p":1900},{"w":1.7378,"p":1600},{"w":1.7444,"p":2200},{"w":1.7476,"p":6100},{"w":1.7525,"p":1500},{"w":1.7574,"p":3500},{"w":1.7623,"p":800},{"w":1.7672,"p":4200},{"w":1.7721,"p":1000},{"w":1.7753,"p":0},{"w":1.7802,"p":3700},{"w":1.7851,"p":1200},{"w":1.7900,"p":4500},{"w":1.7949,"p":1500},{"w":1.7975,"p":14300},{"w":1.8004,"p":3000},{"w":1.8030,"p":0},{"w":1.8063,"p":4000},{"w":1.8096,"p":12000},{"w":1.8128,"p":3000},{"w":1.8177,"p":3500},{"w":1.8226,"p":2800},{"w":1.8291,"p":2200},{"w":1.8356,"p":2500},{"w":1.8422,"p":2000},{"w":1.8487,"p":2400},{"w":1.8552,"p":2100},{"w":1.8617,"p":2700},{"w":1.8682,"p":2000},{"w":1.8748,"p":2300},{"w":1.8813,"p":2600},{"w":1.8862,"p":4300},{"w":1.8911,"p":2000},{"w":1.8976,"p":2400},{"w":1.9025,"p":3000},{"w":1.9074,"p":21500},{"w":1.9107,"p":3500},{"w":1.9139,"p":15900},{"w":1.9172,"p":2000},{"w":1.9205,"p":0},{"w":1.9254,"p":2500},{"w":1.9302,"p":3500},{"w":1.9351,"p":2000},{"w":1.9400,"p":3000},{"w":1.9449,"p":2500},{"w":1.9498,"p":16300},{"w":1.9531,"p":4000},{"w":1.9563,"p":10000},{"w":1.9596,"p":19700},{"w":1.9628,"p":5000},{"w":1.9677,"p":8000},{"w":1.9710,"p":4300},{"w":1.9759,"p":6500},{"w":1.9808,"p":5600},{"w":1.9857,"p":4000},{"w":1.9906,"p":2800},{"w":1.9955,"p":2300},{"w":2.0003,"p":2600},{"w":2.0052,"p":1800},{"w":2.0117,"p":2400},{"w":2.0183,"p":1700},{"w":2.0248,"p":2200},{"w":2.0313,"p":1600},{"w":2.0378,"p":2000},{"w":2.0444,"p":900},{"w":2.0509,"p":1900},{"w":2.0574,"p":800},{"w":2.0639,"p":2600},{"w":2.0704,"p":1000},{"w":2.0770,"p":1500},{"w":2.0835,"p":800},{"w":2.0900,"p":1300},{"w":2.0965,"p":600},{"w":2.1008,"p":0},{"w":2.1047,"p":3000},{"w":2.1079,"p":5500},{"w":2.1128,"p":4500},{"w":2.1177,"p":3500},{"w":2.1226,"p":2300},{"w":2.1291,"p":1800},{"w":2.1356,"p":2100},{"w":2.1422,"p":1700},{"w":2.1487,"p":2000},{"w":2.1552,"p":1600},{"w":2.1617,"p":1900},{"w":2.1682,"p":1700},{"w":2.1748,"p":3500},{"w":2.1796,"p":900},{"w":2.1845,"p":4000},{"w":2.1894,"p":800},{"w":2.1943,"p":3800},{"w":2.1992,"p":1000},{"w":2.2041,"p":4200},{"w":2.2090,"p":900},{"w":2.2139,"p":3500},{"w":2.2188,"p":1200},{"w":2.2237,"p":4000},{"w":2.2286,"p":4400},{"w":2.2335,"p":1500},{"w":2.2400,"p":3500},{"w":2.2465,"p":5800},{"w":2.2514,"p":2500},{"w":2.2563,"p":4500},{"w":2.2612,"p":2300},{"w":2.2661,"p":4000},{"w":2.2710,"p":2800},{"w":2.2758,"p":4600},{"w":2.2807,"p":2300},{"w":2.2856,"p":3800},{"w":2.2905,"p":2500},{"w":2.2954,"p":4200},{"w":2.3003,"p":2400},{"w":2.3052,"p":3500},{"w":2.3101,"p":2000},{"w":2.3150,"p":4600},{"w":2.3199,"p":1200},{"w":2.3247,"p":800},{"w":2.3296,"p":600},{"w":2.3345,"p":800},{"w":2.3394,"p":500},{"w":2.3443,"p":1000},{"w":2.3482,"p":15600},{"w":2.3508,"p":4000},{"w":2.3534,"p":14500},{"w":2.3560,"p":13300},{"w":2.3586,"p":3500},{"w":2.3613,"p":14000},{"w":2.3639,"p":13000},{"w":2.3665,"p":4500},{"w":2.3691,"p":14200},{"w":2.3717,"p":13500},{"w":2.3743,"p":12800},{"w":2.3769,"p":4000},{"w":2.3795,"p":13600},{"w":2.3821,"p":3500},{"w":2.3867,"p":3000},{"w":2.3916,"p":4500},{"w":2.3965,"p":3500},{"w":2.4014,"p":4600},{"w":2.4063,"p":3800},{"w":2.4112,"p":2500},{"w":2.4160,"p":2000},{"w":2.4226,"p":2500},{"w":2.4291,"p":1800},{"w":2.4356,"p":2600},{"w":2.4421,"p":2000},{"w":2.4486,"p":2300},{"w":2.4552,"p":1800},{"w":2.4617,"p":2200},{"w":2.4682,"p":1600},{"w":2.4747,"p":1000},{"w":2.4796,"p":700},{"w":2.4845,"p":900},{"w":2.4894,"p":500},{"w":2.4943,"p":800},{"w":2.4992,"p":600},{"w":2.5041,"p":900},{"w":2.5090,"p":500},{"w":2.5138,"p":800},{"w":2.5187,"p":600},{"w":2.5236,"p":900},{"w":2.5285,"p":4000},{"w":2.5334,"p":4900},{"w":2.5383,"p":4600},{"w":2.5432,"p":1200},{"w":2.5481,"p":800},{"w":2.5529,"p":700},{"w":2.5595,"p":900},{"w":2.5660,"p":1300},{"w":2.5725,"p":1800},{"w":2.5790,"p":1400},{"w":2.5856,"p":2000},{"w":2.5921,"p":1500},{"w":2.5986,"p":1900},{"w":2.6051,"p":1400},{"w":2.6116,"p":2100},{"w":2.6182,"p":1500},{"w":2.6247,"p":1700},{"w":2.6312,"p":1000},{"w":2.6377,"p":1500},{"w":2.6442,"p":800},{"w":2.6508,"p":1300},{"w":2.6573,"p":900},{"w":2.6638,"p":1400},{"w":2.6703,"p":800},{"w":2.6769,"p":0},{"w":2.6818,"p":1500},{"w":2.6866,"p":2200},{"w":2.6932,"p":1600},{"w":2.6997,"p":2400},{"w":2.7062,"p":1800},{"w":2.7127,"p":2500},{"w":2.7193,"p":1700},{"w":2.7258,"p":2200},{"w":2.7323,"p":1600},{"w":2.7388,"p":2000},{"w":2.7453,"p":1200},{"w":2.7519,"p":800},{"w":2.7584,"p":0},{"w":2.7633,"p":1000},{"w":2.7682,"p":700},{"w":2.7747,"p":1200},{"w":2.7812,"p":800},{"w":2.7861,"p":4000},{"w":2.7910,"p":4400},{"w":2.7959,"p":3000},{"w":2.8008,"p":1500},{"w":2.8073,"p":2500},{"w":2.8122,"p":1000},{"w":2.8171,"p":5500},{"w":2.8220,"p":1500},{"w":2.8269,"p":3500},{"w":2.8318,"p":800},{"w":2.8367,"p":4000},{"w":2.8416,"p":1200},{"w":2.8464,"p":3000},{"w":2.8513,"p":900},{"w":2.8562,"p":3500},{"w":2.8611,"p":1500},{"w":2.8660,"p":2500},{"w":2.8709,"p":4400},{"w":2.8758,"p":4000},{"w":2.8823,"p":0},{"w":2.8872,"p":1500},{"w":2.8921,"p":3000},{"w":2.8970,"p":900},{"w":2.9019,"p":3300},{"w":2.9068,"p":700},{"w":2.9117,"p":2800},{"w":2.9166,"p":1100},{"w":2.9214,"p":3500},{"w":2.9263,"p":800},{"w":2.9312,"p":3000},{"w":2.9361,"p":1000},{"w":2.9410,"p":2500},{"w":2.9443,"p":0},{"w":2.9492,"p":2000},{"w":2.9540,"p":3000},{"w":2.9589,"p":900},{"w":2.9638,"p":4500},{"w":2.9687,"p":1500},{"w":2.9736,"p":3500},{"w":2.9785,"p":800},{"w":2.9834,"p":3000},{"w":2.9883,"p":1200},{"w":2.9931,"p":5400},{"w":2.9980,"p":1800},{"w":3.0029,"p":2600},{"w":3.0094,"p":1700},{"w":3.0160,"p":2400},{"w":3.0225,"p":1600},{"w":3.0290,"p":2200},{"w":3.0332,"p":5950},{"w":3.0365,"p":0},{"w":3.0404,"p":1500},{"w":3.0453,"p":3500},{"w":3.0502,"p":1000},{"w":3.0551,"p":3000},{"w":3.0600,"p":0},{"w":3.0648,"p":2500},{"w":3.0697,"p":800},{"w":3.0746,"p":3800},{"w":3.0795,"p":0},{"w":3.0844,"p":3000},{"w":3.0893,"p":1200},{"w":3.0942,"p":3500},{"w":3.0991,"p":0},{"w":3.1040,"p":2800},{"w":3.1089,"p":3900},{"w":3.1138,"p":3800},{"w":3.1186,"p":3900},{"w":3.1235,"p":3700},{"w":3.1284,"p":3900},{"w":3.1333,"p":3800},{"w":3.1382,"p":3600},{"w":3.1431,"p":5350},{"w":3.1480,"p":2000},{"w":3.1529,"p":2400},{"w":3.1594,"p":1700},{"w":3.1659,"p":2300},{"w":3.1724,"p":1800},{"w":3.1790,"p":2600},{"w":3.1855,"p":1700},{"w":3.1920,"p":2200},{"w":3.1985,"p":1600},{"w":3.2050,"p":2500},{"w":3.2083,"p":20800},{"w":3.2116,"p":3000},{"w":3.2148,"p":14400},{"w":3.2181,"p":2500},{"w":3.2213,"p":13500},{"w":3.2246,"p":1000},{"w":3.2279,"p":3500},{"w":3.2311,"p":0},{"w":3.2360,"p":2500},{"w":3.2409,"p":16200},{"w":3.2442,"p":2000},{"w":3.2491,"p":18000},{"w":3.2523,"p":4500},{"w":3.2572,"p":4000},{"w":3.2621,"p":6000},{"w":3.2670,"p":3500},{"w":3.2719,"p":5000},{"w":3.2768,"p":6500},{"w":3.2817,"p":2000},{"w":3.2866,"p":2600},{"w":3.2931,"p":1800},{"w":3.2996,"p":2500},{"w":3.3062,"p":1700},{"w":3.3127,"p":2200},{"w":3.3176,"p":1500},{"w":3.3225,"p":23000},{"w":3.3257,"p":3000},{"w":3.3290,"p":22500},{"w":3.3323,"p":15000},{"w":3.3355,"p":4000},{"w":3.3388,"p":14000},{"w":3.3420,"p":3500},{"w":3.3453,"p":14500},{"w":3.3486,"p":13800},{"w":3.3518,"p":3000},{"w":3.3551,"p":15000},{"w":3.3584,"p":14500},{"w":3.3616,"p":2500},{"w":3.3649,"p":13000},{"w":3.3681,"p":1500},{"w":3.3714,"p":0},{"w":3.3763,"p":2500},{"w":3.3812,"p":3600},{"w":3.3861,"p":3500},{"w":3.3910,"p":3600},{"w":3.3959,"p":3700},{"w":3.4007,"p":3500},{"w":3.4056,"p":3600},{"w":3.4105,"p":3400},{"w":3.4154,"p":3700},{"w":3.4203,"p":3500},{"w":3.4252,"p":2000},{"w":3.4301,"p":4550},{"w":3.4350,"p":1800},{"w":3.4399,"p":2500},{"w":3.4464,"p":1600},{"w":3.4529,"p":2200},{"w":3.4594,"p":1700},{"w":3.4660,"p":2400},{"w":3.4725,"p":1600},{"w":3.4790,"p":2000},{"w":3.4855,"p":13200},{"w":3.4888,"p":2500},{"w":3.4937,"p":12900},{"w":3.4969,"p":2000},{"w":3.5018,"p":2800},{"w":3.5083,"p":1500},{"w":3.5149,"p":3000},{"w":3.5214,"p":1700},{"w":3.5279,"p":2800},{"w":3.5344,"p":1500},{"w":3.5409,"p":3500},{"w":3.5458,"p":1200},{"w":3.5507,"p":4000},{"w":3.5556,"p":1500},{"w":3.5605,"p":4200},{"w":3.5654,"p":1000},{"w":3.5703,"p":3500},{"w":3.5752,"p":1300},{"w":3.5801,"p":4500},{"w":3.5850,"p":1200},{"w":3.5898,"p":4000},{"w":3.5947,"p":1800},{"w":3.5996,"p":4300},{"w":3.6045,"p":5950},{"w":3.6094,"p":2000},{"w":3.6143,"p":1400},{"w":3.6192,"p":1800},{"w":3.6257,"p":1200},{"w":3.6322,"p":1900},{"w":3.6387,"p":1300},{"w":3.6452,"p":2000},{"w":3.6518,"p":1400},{"w":3.6583,"p":1800},{"w":3.6632,"p":19200},{"w":3.6664,"p":3000},{"w":3.6697,"p":15500},{"w":3.6729,"p":2500},{"w":3.6762,"p":13000},{"w":3.6795,"p":3500},{"w":3.6844,"p":4600},{"w":3.6893,"p":3000},{"w":3.6941,"p":5300},{"w":3.6990,"p":2500},{"w":3.7039,"p":3800},{"w":3.7088,"p":2000},{"w":3.7137,"p":1800},{"w":3.7202,"p":2100},{"w":3.7267,"p":1600},{"w":3.7333,"p":1900},{"w":3.7398,"p":1700},{"w":3.7463,"p":5300},{"w":3.7512,"p":1500},{"w":3.7561,"p":1000},{"w":3.7610,"p":0},{"w":3.7659,"p":1200},{"w":3.7708,"p":500},{"w":3.7756,"p":1500},{"w":3.7805,"p":0},{"w":3.7854,"p":1000},{"w":3.7903,"p":300},{"w":3.7952,"p":1200},{"w":3.8001,"p":0},{"w":3.8050,"p":900},{"w":3.8099,"p":400},{"w":3.8148,"p":1500},{"w":3.8197,"p":0},{"w":3.8245,"p":1100},{"w":3.8294,"p":600},{"w":3.8343,"p":2500},{"w":3.8392,"p":1600},{"w":3.8441,"p":3000},{"w":3.8490,"p":1800},{"w":3.8539,"p":2600},{"w":3.8571,"p":1300}
    ]
  },
  "resolve": {"axis": {"x": "independent", "y": "independent"}},
  "layer": [
    {
      "data": {"name": "band"},
      "mark": {"type": "area", "color": "#0072BD", "opacity": 1, "clip": true},
      "encoding": {
        "x": {"field": "w", "type": "quantitative", "axis": null},
        "y": {"field": "llo", "type": "quantitative", "axis": null},
        "y2": {"field": "lhi"}
      }
    },
    {
      "data": {"name": "lpg"},
      "mark": {"type": "line", "strokeWidth": 1, "clip": true},
      "encoding": {
        "x": {"field": "w", "type": "quantitative", "scale": {"domain": [1, 3.9736], "nice": false, "zero": false},
              "axis": {"orient": "bottom", "values": [1, 2, 3, 3.9736], "labelExpr": "format(round(datum.value), 'd')", "labelPadding": 22, "title": "Weeks", "titleX": 449, "titleY": 27}},
        "y": {"field": "p", "type": "quantitative", "scale": {"domain": [0, 22000], "nice": false, "zero": false},
              "axis": {"orient": "left", "values": [0, 5000, 10000, 15000, 20000], "labelExpr": "datum.value/10000", "labelPadding": 16, "title": "Power [W]", "titleX": -47, "titleY": 220}},
        "color": {"datum": "LoadProGen", "type": "nominal", "scale": {"domain": ["LoadProGen", "Measurements"], "range": ["#0072BD", "#D95319"]}, "legend": {"title": null}}
      }
    },
    {
      "data": {"name": "band"},
      "mark": {"type": "area", "color": "#D95319", "opacity": 1, "clip": true},
      "encoding": {
        "x": {"field": "w", "type": "quantitative", "axis": null},
        "y": {"field": "mlo", "type": "quantitative", "axis": null},
        "y2": {"field": "mhi"}
      }
    },
    {
      "data": {"name": "meas"},
      "mark": {"type": "line", "strokeWidth": 1, "clip": true},
      "encoding": {
        "x": {"field": "w", "type": "quantitative", "axis": {"orient": "top", "values": [2, 3], "labels": false, "title": null}},
        "y": {"field": "p", "type": "quantitative", "axis": {"orient": "right", "values": [5000, 10000, 15000, 20000], "labels": false, "title": null}},
        "color": {"datum": "Measurements", "type": "nominal", "legend": {"title": null}}
      }
    },
    {
      "data": {"values": [{}]},
      "mark": {"type": "text", "align": "left", "baseline": "alphabetic", "fontSize": 25, "dx": 2, "dy": -5, "color": "#262626"},
      "encoding": {
        "x": {"datum": 1, "type": "quantitative", "axis": null},
        "y": {"datum": 22000, "type": "quantitative", "axis": null},
        "text": {"value": "×10"}
      }
    },
    {
      "data": {"values": [{}]},
      "mark": {"type": "text", "align": "left", "baseline": "alphabetic", "fontSize": 22, "dx": 48, "dy": -10, "color": "#262626"},
      "encoding": {
        "x": {"datum": 1, "type": "quantitative", "axis": null},
        "y": {"datum": 22000, "type": "quantitative", "axis": null},
        "text": {"value": "4"}
      }
    }
  ]
}
